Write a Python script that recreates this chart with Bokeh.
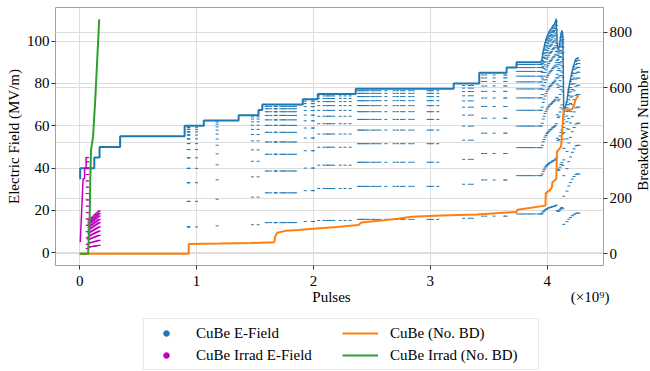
import numpy as np
from bokeh.plotting import figure
from bokeh.layouts import column, row
from bokeh.models import (Range1d, LinearAxis, FixedTicker, Grid, Legend,
                          LegendItem)
from bokeh.core.properties import value
from bokeh.embed import file_html
from bokeh.resources import INLINE

BLUE = "#1f77b4"
ORANGE = "#ff7f0e"
GREEN = "#2ca02c"
MAGENTA = "#bf00bf"
FONT = "Liberation Serif"

# ---------------- tick labels ----------------
x_ticks = [0, 1, 2, 3, 4]
left_ticks = [0, 20, 40, 60, 80, 100]
right_ticks = [0, 200, 400, 600, 800]

# ---------------- CuBe E-field (pulses in units of 1e9, MV/m) ----------------
env_x = [0.0, 0.004, 0.125, 0.17, 0.346, 0.898, 1.062, 1.36, 1.53, 1.563,
         1.909, 2.037, 2.362, 3.2, 3.419, 3.653, 3.738, 3.95]
env_y = [35, 40, 45, 50, 55, 60, 62.5, 65, 67.5, 70,
         72.5, 75, 77.5, 80, 85, 87.5, 90, 90]
col_x = [0.929, 0.932, 0.935, 1.0, 1.176, 1.478, 1.527,
         1.597, 1.61, 1.635, 1.672, 1.677, 1.682, 1.72, 1.735, 1.75, 1.765,
         1.79, 1.81, 1.83, 1.847,
         1.93, 1.99, 2.0,
         2.045, 2.09, 2.116, 2.13, 2.15, 2.173, 2.23, 2.27, 2.314,
         2.385, 2.40, 2.415, 2.43, 2.45, 2.47, 2.5, 2.52, 2.545, 2.57, 2.62,
         2.69, 2.72, 2.753, 2.776, 2.824, 2.852, 2.98, 3.0, 3.02, 3.064,
         3.285, 3.334, 3.36,
         3.447, 3.475, 3.546, 3.636, 3.648,
         3.745, 3.77, 3.79, 3.81, 3.83, 3.85, 3.87, 3.89, 3.92, 3.94]
ramp_fracs = [0.204, 0.405, 0.552, 0.665, 0.748, 0.813, 0.86, 0.897,
              0.927, 0.952, 0.972, 0.988]
late_x = [3.950, 3.958, 3.966, 3.974, 3.982, 3.990, 3.998, 4.006, 4.014,
          4.022, 4.030, 4.038, 4.046, 4.054, 4.062, 4.070, 4.078, 4.086,
          4.094, 4.102, 4.110, 4.118, 4.126, 4.134, 4.142, 4.170, 4.185,
          4.200, 4.215, 4.230, 4.245, 4.260, 4.272]
late_top = [90, 92, 95, 97, 99, 100.5, 102, 103, 104, 105, 105.5, 106, 107,
            107.5, 108, 109, 110.5, 98, 96, 97, 100, 103, 105, 102, 66, 72,
            78, 82, 86, 89, 91.5, 92, 92]

# ---------------- CuBe Irrad E-field ----------------
irr_line_x = [0.005, 0.029, 0.042, 0.042, 0.055, 0.055, 0.066]
irr_line_y = [5, 35, 35, 40, 40, 45, 45]
irr_col_x = [0.064, 0.068]
irr_col_levels = [2, 4, 7, 10, 13, 16, 19, 22, 25, 28, 31, 34, 37, 40, 43, 45]
irr_cluster_x = [0.078, 0.085, 0.092, 0.099, 0.106, 0.113, 0.12, 0.127,
                 0.134, 0.141, 0.148, 0.155, 0.162, 0.168]
irr_cluster_top = [15, 15.5, 16, 16.3, 16.7, 17, 17.4, 17.8, 18.1, 18.5,
                   18.8, 19.2, 19.5, 19.8]
irr_fracs = [0.18, 0.3, 0.42, 0.52, 0.62, 0.72, 0.8, 0.88, 0.94, 1.0]

# ---------------- breakdown counts (right axis) ----------------
bd_x = [0.0, 0.932, 0.934, 1.2, 1.46, 1.665, 1.672, 1.69, 1.76, 1.875, 2.0,
        2.2, 2.385, 2.41, 2.6, 2.72, 2.84, 3.1, 3.4, 3.66, 3.738, 3.745,
        3.985, 3.988, 4.027, 4.04, 4.045, 4.078, 4.084, 4.119, 4.141, 4.212,
        4.229, 4.24, 4.268]
bd_y = [0, 0, 36, 37, 39, 42, 62, 76, 83, 86, 91, 97, 104, 113, 121, 127,
        134, 138, 142, 149, 151, 159, 174, 219, 231, 240, 258, 270, 369, 387,
        520, 522, 533, 554, 572]
irr_bd_x = [0.0, 0.072, 0.085, 0.091, 0.097, 0.114, 0.133, 0.167]
irr_bd_y = [0, 0, 123, 279, 375, 422, 554, 846]

# ---------------- texts ----------------
x_label = "Pulses"
x_scale_label = "(×10⁹)"
y_label = "Electric Field (MV/m)"
y2_label = "Breakdown Number"
legend_labels = ["CuBe E-Field", "CuBe Irrad E-Field", "CuBe (No. BD)",
                 "CuBe Irrad (No. BD)"]

# ---------------- derived point clouds ----------------
def env_at(x):
    i = int(np.searchsorted(env_x, x, side="right")) - 1
    return env_y[i]

dots_x, dots_y = [], []
for cx in col_x:
    top = env_at(cx)
    for f in ramp_fracs:
        dots_x.append(cx)
        dots_y.append(f * top)
for cx, top in zip(late_x, late_top):
    for f in ramp_fracs:
        dots_x.append(cx)
        dots_y.append(f * top)

irr_x, irr_y = [], []
for cx in irr_col_x:
    for lv in irr_col_levels:
        irr_x.append(cx)
        irr_y.append(lv)
for cx, top in zip(irr_cluster_x, irr_cluster_top):
    for f in irr_fracs:
        irr_x.append(cx)
        irr_y.append(f * top)

# ---------------- main figure ----------------
P_H = 288
P_W = 635
p = figure(width=P_W, height=P_H,
           x_range=Range1d(-0.207, 4.482), y_range=Range1d(-5.97, 115.85),
           output_backend="svg", toolbar_location=None,
           min_border_left=55, min_border_right=28, min_border_top=7,
           min_border_bottom=0, background_fill_color="white")
p.extra_y_ranges = {"right": Range1d(-42.0, 888.8)}
p.outline_line_color = "#a0a0a0"
p.outline_line_width = 1

right_axis = LinearAxis(y_range_name="right")
p.add_layout(right_axis, "right")

p.yaxis[0].axis_label = y_label
p.xaxis.ticker = FixedTicker(ticks=x_ticks)
p.yaxis[0].ticker = FixedTicker(ticks=left_ticks)
right_axis.ticker = FixedTicker(ticks=right_ticks)

for ax in [p.xaxis[0], p.yaxis[0], right_axis]:
    ax.axis_label_text_font = FONT
    ax.axis_label_text_font_style = "normal"
    ax.axis_label_text_font_size = "15px"
    ax.axis_label_text_color = "black"
    ax.major_label_text_font = FONT
    ax.major_label_text_font_size = "15px"
    ax.major_label_text_color = "black"
    ax.axis_line_color = None
    ax.major_tick_line_color = "#333333"
    ax.major_tick_in = 0
    ax.major_tick_out = 4
    ax.minor_tick_line_color = None
    ax.major_label_standoff = 2
    ax.axis_label_standoff = 2
p.xaxis[0].major_label_standoff = 6

p.xgrid.ticker = FixedTicker(ticks=x_ticks)
p.ygrid.ticker = FixedTicker(ticks=left_ticks)
for g in [p.xgrid[0], p.ygrid[0]]:
    g.grid_line_color = "#dddddd"
    g.grid_line_width = 1
rgrid = Grid(dimension=1, ticker=FixedTicker(ticks=right_ticks),
             y_range_name="right", grid_line_color="#dddddd", grid_line_width=1)
p.add_layout(rgrid)

# E-field point clouds
p.scatter(dots_x, dots_y, marker="dash", size=3, line_color=BLUE, line_width=1)
p.step(env_x, env_y, mode="after", line_color=BLUE, line_width=2)
p.line(late_x, late_top, line_color=BLUE, line_width=1.5)

p.line(irr_line_x, irr_line_y, line_color=MAGENTA, line_width=1.5)
p.scatter(irr_x, irr_y, marker="dash", size=3, line_color=MAGENTA, line_width=1)

# breakdown counts
p.line(bd_x, bd_y, y_range_name="right", line_color=ORANGE, line_width=2)
p.line(irr_bd_x, irr_bd_y, y_range_name="right", line_color=GREEN, line_width=2)

# ---------------- right axis label strip ----------------
R_W = 650 - P_W
pr = figure(width=R_W, height=P_H, x_range=Range1d(0, R_W),
            y_range=Range1d(0, P_H), output_backend="svg",
            toolbar_location=None, min_border=0)
pr.axis.visible = False
pr.grid.visible = False
pr.outline_line_color = None
pr.text(x=[7], y=[P_H - 136.5], text=[y2_label], angle=np.pi / 2,
        text_align="center", text_baseline="middle",
        text_font=value(FONT), text_font_size="15px", text_color="black")

# ---------------- bottom strip: x label + legend ----------------
B_H = 83
pb = figure(width=650, height=B_H, x_range=Range1d(0, 650),
            y_range=Range1d(0, B_H), output_backend="svg",
            toolbar_location=None, min_border=0)
pb.axis.visible = False
pb.grid.visible = False
pb.outline_line_color = None
pb.text(x=[331], y=[B_H - 8], text=[x_label], text_align="center",
        text_baseline="middle", text_font=value(FONT),
        text_font_size="15px", text_color="black")
pb.text(x=[609], y=[B_H - 8], text=[x_scale_label], text_align="right",
        text_baseline="middle", text_font=value(FONT),
        text_font_size="15px", text_color="black")

lg_blue = pb.scatter([-100], [-100], marker="circle", size=5,
                     fill_color=BLUE, line_color=BLUE)
lg_mag = pb.scatter([-100], [-100], marker="circle", size=5,
                    fill_color=MAGENTA, line_color=MAGENTA)
lg_or = pb.line([-100, -90], [-100, -100], line_color=ORANGE, line_width=2)
lg_gr = pb.line([-100, -90], [-100, -100], line_color=GREEN, line_width=2)

legend = Legend(items=[
    LegendItem(label=legend_labels[0], renderers=[lg_blue]),
    LegendItem(label=legend_labels[1], renderers=[lg_mag]),
    LegendItem(label=legend_labels[2], renderers=[lg_or]),
    LegendItem(label=legend_labels[3], renderers=[lg_gr]),
], ncols=2, location=(143, 1))
legend.label_text_font = FONT
legend.label_text_font_size = "15px"
legend.label_text_color = "black"
legend.glyph_width = 36
legend.glyph_height = 14
legend.label_height = 20
legend.label_width = 144
legend.label_standoff = 12
legend.spacing = 2
legend.padding = 4
legend.margin = 0
legend.border_line_color = "#d0d0d0"
legend.border_line_width = 1
pb.add_layout(legend)

layout = column(row(p, pr), pb)
open("out.html", "w").write(file_html(layout, INLINE))
